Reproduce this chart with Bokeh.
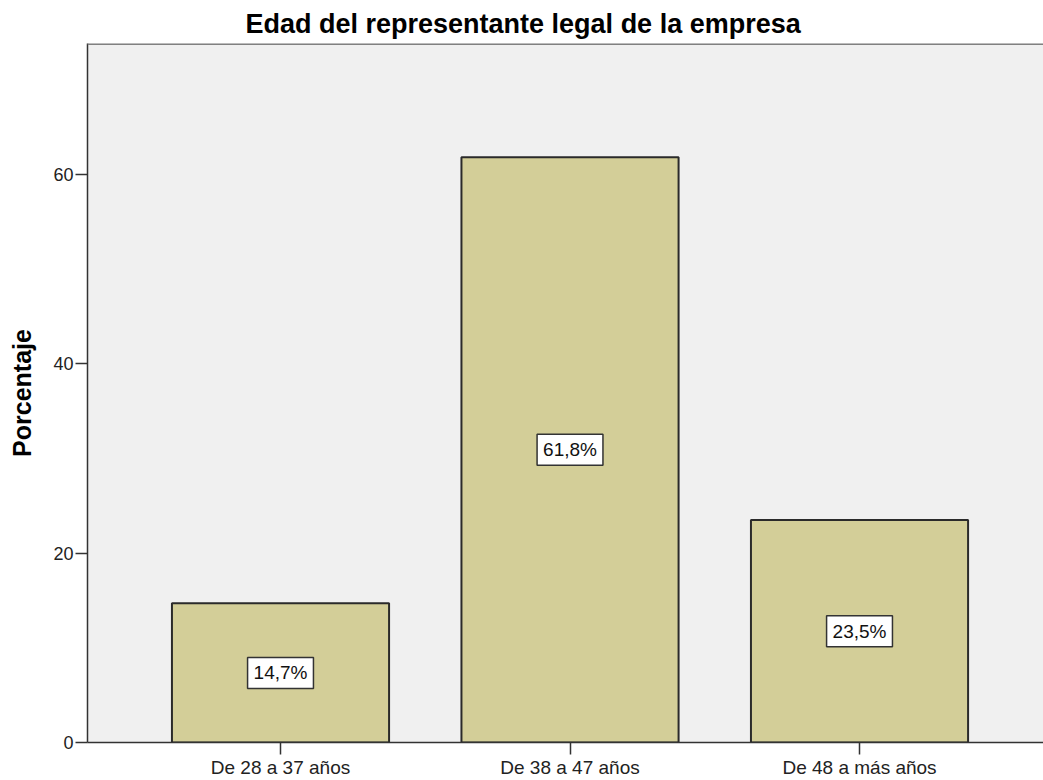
from bokeh.plotting import figure
from bokeh.models import ColumnDataSource, FixedTicker, Label, Span, Range1d
from bokeh.embed import file_html
from bokeh.resources import INLINE

categories = ["De 28 a 37 años", "De 38 a 47 años", "De 48 a más años"]
percentages = [14.7, 61.8, 23.5]
pct_labels = ["14,7%", "61,8%", "23,5%"]
y_ticks = [0, 20, 40, 60]

xpos = [i + 0.5 for i in range(len(categories))]
src = ColumnDataSource(dict(x=xpos, top=percentages))

Y_MAX = 73.8
FONT = "Liberation Sans"

p = figure(width=1043, height=780, output_backend="svg", toolbar_location=None,
           x_range=Range1d(-0.1667, 3.1355), y_range=Range1d(0, Y_MAX),
           min_border_left=87, min_border_right=0, min_border_top=43, min_border_bottom=37,
           background_fill_color="#f0f0f0", border_fill_color="white")

p.vbar(x="x", top="top", width=0.75, source=src,
       fill_color="#d3ce98", line_color="#2a2a2a", line_width=2)

for xi, v, lab in zip(xpos, percentages, pct_labels):
    p.add_layout(Label(x=xi, y=v / 2, text=lab, text_align="center", text_baseline="middle",
                       text_font=FONT, text_font_size="19px", text_color="#111111",
                       background_fill_color="white", border_line_color="#333333",
                       border_line_width=1.5, padding=(6, 5)))

p.add_layout(Span(location=Y_MAX, dimension="width", line_color="#808080", line_width=3))

p.xgrid.visible = False
p.ygrid.visible = False
p.outline_line_color = None

p.xaxis.ticker = FixedTicker(ticks=xpos)
p.xaxis.major_label_overrides = {x: c for x, c in zip(xpos, categories)}
p.yaxis.ticker = FixedTicker(ticks=y_ticks)

for ax in (p.xaxis, p.yaxis):
    ax.axis_line_color = "#333333"
    ax.axis_line_width = 1.5
    ax.major_tick_line_color = "#333333"
    ax.major_tick_line_width = 1.5
    ax.major_tick_out = 12
    ax.major_tick_in = 0
    ax.minor_tick_line_color = None
    ax.major_label_text_font = FONT
    ax.major_label_text_font_size = "18px"
    ax.major_label_text_color = "#222222"
    ax.major_label_standoff = 2

p.xaxis.major_label_text_font_size = "19px"

p.yaxis.axis_label = "Porcentaje"
p.yaxis.axis_label_text_font = FONT
p.yaxis.axis_label_text_font_size = "25px"
p.yaxis.axis_label_text_font_style = "bold"
p.yaxis.axis_label_text_color = "black"
p.yaxis.axis_label_standoff = 14

p.title.text = "Edad del representante legal de la empresa"
p.title.text_font = FONT
p.title.text_font_size = "27px"
p.title.text_font_style = "bold"
p.title.text_color = "black"
p.title.align = "left"
p.title.offset = 158

open("out.html", "w").write(file_html(p, INLINE))
